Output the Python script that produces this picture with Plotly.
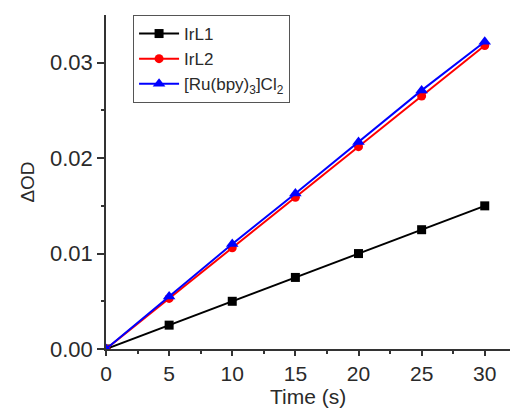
import plotly.graph_objects as go

time_s = [0, 5, 10, 15, 20, 25, 30]
irl1 = [0, 0.0025, 0.0050, 0.0075, 0.0100, 0.0125, 0.0150]
irl2 = [0, 0.0053, 0.0106, 0.0159, 0.0212, 0.0265, 0.0318]
ru_bpy = [0, 0.0055, 0.0110, 0.0163, 0.0217, 0.0271, 0.0322]

series = [
    ("IrL1", irl1, "black", "square", 9),
    ("IrL2", irl2, "red", "circle", 9),
    ("[Ru(bpy)<sub>3</sub>]Cl<sub>2</sub>", ru_bpy, "blue", "triangle-up", 11),
]

fig = go.Figure()
for name, vals, color, sym, size in series:
    fig.add_trace(go.Scatter(
        x=time_s, y=vals, name=name, mode="lines+markers",
        line=dict(color=color, width=2),
        marker=dict(color=color, symbol=sym, size=size),
    ))

font = "Liberation Sans, Arial, sans-serif"
text_color = "#2a2a2a"
fig.update_layout(
    width=510, height=409,
    margin=dict(l=106, r=0, t=15, b=60),
    paper_bgcolor="white", plot_bgcolor="white",
    font=dict(family=font, color=text_color),
    showlegend=True,
    legend=dict(
        x=0.067, y=1.0, xanchor="left", yanchor="top",
        bordercolor="#555", borderwidth=1, bgcolor="white",
        font=dict(size=17, family=font, color=text_color),
        tracegroupgap=0, itemwidth=40,
    ),
    annotations=[dict(
        text="Time (s)", xref="paper", yref="paper",
        x=0.5, y=-0.142, xanchor="center", yanchor="middle",
        showarrow=False, font=dict(size=21, family=font, color=text_color),
    )],
)
fig.update_xaxes(
    range=[0, 32], tickvals=[0, 5, 10, 15, 20, 25, 30],
    ticks="outside", ticklen=5, tickwidth=1.5, tickcolor="#333",
    minor=dict(tickvals=[2.5, 7.5, 12.5, 17.5, 22.5, 27.5], ticks="outside",
               ticklen=3, tickcolor="#333"),
    showline=True, linecolor="#333", linewidth=1.5,
    showgrid=False, zeroline=False,
    tickfont=dict(size=21),
)
fig.update_yaxes(
    range=[0, 0.035], tickvals=[0, 0.01, 0.02, 0.03], tickformat=".2f",
    ticks="outside", ticklen=7, tickwidth=1.5, tickcolor="#333",
    minor=dict(tickvals=[0.005, 0.015, 0.025], ticks="outside",
               ticklen=3, tickcolor="#333"),
    showline=True, linecolor="#333", linewidth=1.5,
    showgrid=False, zeroline=False,
    tickfont=dict(size=22),
    title=dict(text="ΔOD", font=dict(size=19), standoff=10),
)

fig.write_html("out.html")
